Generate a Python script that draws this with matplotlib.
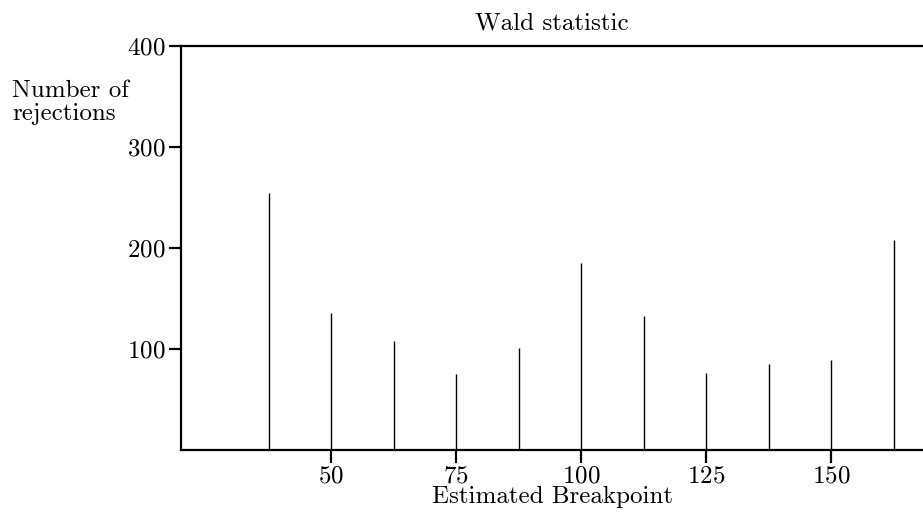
import numpy as np
import matplotlib
matplotlib.use("Agg")
import matplotlib.pyplot as plt

breakpoints = [37.5, 50, 62.5, 75, 87.5, 100, 112.5, 125, 137.5, 150, 162.5]
rejections = [255, 136, 108, 75, 101, 185, 133, 76, 85, 89, 208]
xticks = [50, 75, 100, 125, 150]
yticks = [100, 200, 300, 400]

plt.rcParams["font.family"] = ["cmr10", "DejaVu Serif"]
plt.rcParams["axes.formatter.use_mathtext"] = True
plt.rcParams["font.size"] = 18

fig = plt.figure(figsize=(9.23, 5.25), dpi=100)
ax = fig.add_axes([181 / 923, 0.143, 742 / 923, 0.769])

ax.vlines(breakpoints, 0, rejections, colors="black", linewidth=1.0)

ax.set_xlim(20, 168.4)
ax.set_ylim(0, 400)
ax.set_xticks(xticks)
ax.set_yticks(yticks)

for side in ["left", "bottom", "top"]:
    ax.spines[side].set_linewidth(1.6)
ax.spines["right"].set_visible(False)
ax.tick_params(direction="out", length=9, width=1.6, labelsize=18, pad=2)

ax.set_title("Wald statistic", fontsize=18, pad=12)
ax.set_xlabel("Estimated Breakpoint", fontsize=18, labelpad=-1)
fig.text(0.013, 0.848, "Number of\nrejections", fontsize=18,
         ha="left", va="top", linespacing=1.05)

fig.savefig("out.png", dpi=100)
